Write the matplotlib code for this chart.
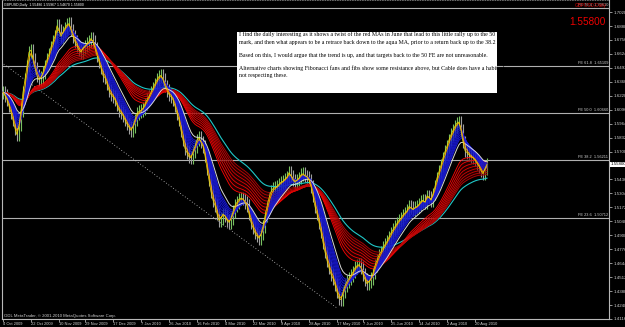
import numpy as np
import pandas as pd
import matplotlib
matplotlib.use("Agg")
import matplotlib.pyplot as plt
from matplotlib.patches import Rectangle

# --- daily closes GBPUSD, 4 Oct 2009 .. 24 Aug 2010 ---
closes = [
    1.626, 1.623, 1.619, 1.613, 1.607, 1.600, 1.592, 1.586, 1.595, 1.609,
    1.626, 1.638, 1.651, 1.664, 1.666, 1.657, 1.649, 1.642, 1.638, 1.640,
    1.645, 1.651, 1.657, 1.662, 1.669, 1.674, 1.679, 1.689, 1.685, 1.679,
    1.683, 1.687, 1.690, 1.691, 1.685, 1.679, 1.674, 1.670, 1.666, 1.664,
    1.668, 1.670, 1.672, 1.674, 1.677, 1.674, 1.668, 1.661, 1.655, 1.649,
    1.642, 1.640, 1.634, 1.628, 1.624, 1.622, 1.619, 1.614, 1.609, 1.607,
    1.604, 1.600, 1.596, 1.593, 1.590, 1.594, 1.600, 1.606, 1.608, 1.609,
    1.611, 1.615, 1.619, 1.622, 1.626, 1.630, 1.634, 1.638, 1.641, 1.642,
    1.638, 1.632, 1.628, 1.624, 1.622, 1.619, 1.613, 1.606, 1.600, 1.590,
    1.581, 1.573, 1.569, 1.565, 1.564, 1.570, 1.575, 1.581, 1.583, 1.579,
    1.575, 1.566, 1.554, 1.543, 1.532, 1.524, 1.519, 1.511, 1.505, 1.507,
    1.511, 1.509, 1.505, 1.503, 1.507, 1.513, 1.519, 1.522, 1.525, 1.526,
    1.525, 1.522, 1.519, 1.511, 1.503, 1.498, 1.493, 1.490, 1.488, 1.492,
    1.499, 1.509, 1.518, 1.526, 1.532, 1.535, 1.536, 1.537, 1.539, 1.541,
    1.542, 1.544, 1.546, 1.550, 1.547, 1.543, 1.541, 1.543, 1.545, 1.548,
    1.549, 1.547, 1.546, 1.543, 1.537, 1.528, 1.518, 1.511, 1.503, 1.494,
    1.484, 1.475, 1.467, 1.460, 1.454, 1.450, 1.444, 1.437, 1.431, 1.430,
    1.437, 1.443, 1.447, 1.450, 1.453, 1.456, 1.460, 1.462, 1.463, 1.460,
    1.454, 1.449, 1.445, 1.447, 1.450, 1.455, 1.462, 1.467, 1.472, 1.475,
    1.479, 1.482, 1.485, 1.489, 1.493, 1.496, 1.499, 1.502, 1.505, 1.507,
    1.510, 1.512, 1.514, 1.518, 1.517, 1.515, 1.517, 1.518, 1.520, 1.523,
    1.524, 1.522, 1.528, 1.527, 1.524, 1.530, 1.537, 1.545, 1.551, 1.557,
    1.564, 1.570, 1.575, 1.581, 1.586, 1.590, 1.594, 1.597, 1.598, 1.590,
    1.579, 1.571, 1.569, 1.567, 1.565, 1.564, 1.562, 1.559, 1.556, 1.552,
    1.549, 1.554, 1.558,
]

date_ticks = [0, 14, 28, 41, 55, 69, 83, 97, 111, 125, 139, 153, 167, 180,
              194, 208, 222, 236]
date_labels = ["4 Oct 2009", "22 Oct 2009", "10 Nov 2009", "29 Nov 2009",
               "17 Dec 2009", "7 Jan 2010", "26 Jan 2010", "16 Feb 2010",
               "4 Mar 2010", "22 Mar 2010", "9 Apr 2010", "28 Apr 2010",
               "17 May 2010", "7 Jun 2010", "25 Jun 2010", "14 Jul 2010",
               "2 Aug 2010", "20 Aug 2010"]

price_ticks = [1.4116 + 0.0132 * k for k in range(23)]

fe_names = ["FE 23.6", "FE 38.2", "FE 50.0", "FE 61.8", "FE 76.4"]
fe_prices = [1.50712, 1.56211, 1.60660, 1.65109, 1.70610]

# trend line (bar index, price)
trend_x = [-2, 167]
trend_y = [1.6560, 1.4220]

title_text = "GBPUSD,Daily  1.55486 1.55967 1.54670 1.55800"
last_price = 1.55800

note_lines = [
    "I find the daily interesting as it shows a twist of the red MAs in June that lead to this little rally up to the 50 FE",
    "mark, and then what appears to be a retrace back down to the aqua MA, prior to a return back up to the 38.2 FE.",
    "",
    "Based on this, I would argue that the trend is up, and that targets back to the 50 FE are not unreasonable.",
    "",
    "Alternative charts showing Fibonacci fans and fibs show some resistance above, but Cable does have a habit of",
    "not respecting these.",
]

blue_periods = [3, 4, 5, 6, 7, 8, 9, 10]
red_periods = [22, 25, 28, 31, 34, 37, 40, 43]
white_period = 12
aqua_period = 50

SANS = "Liberation Sans"


def ema(vals, n):
    return pd.Series(vals).ewm(span=n, adjust=False).mean().to_numpy()


W, H = 625, 327
fig = plt.figure(figsize=(W / 100, H / 100), dpi=100, facecolor="black")
ax = fig.add_axes([2 / W, 8 / H, 607 / W, 319 / H], facecolor="black")

c = np.array(closes)
x = np.arange(len(c))
o = np.r_[c[0], c[:-1]]
pad = 0.006
hi = np.maximum(o, c) + pad
lo = np.minimum(o, c) - pad
up = c >= o
ax.vlines(x[up], lo[up], hi[up], color="#78c060", lw=0.8, zorder=2)
ax.vlines(x[~up], lo[~up], hi[~up], color="#a0a0a0", lw=0.8, zorder=2)

# moving averages
ax.plot(x, ema(c, aqua_period), color="#20c8c8", lw=0.8, zorder=3)
reds = [ema(c, p) for p in red_periods]
ax.fill_between(x, reds[0], reds[-1], color="#400000", alpha=0.5, lw=0, zorder=3)
n_red = len(reds)
for k, r in enumerate(reds):
    shade = 1.0 - 0.3 * k / (n_red - 1)
    ax.plot(x, r, color=(shade, 0.02, 0.02), lw=0.6, zorder=3)
blues = [ema(c, p) for p in blue_periods]
ax.fill_between(x, blues[0], blues[-1], color="#000090", alpha=0.6, lw=0, zorder=4)
for b in blues:
    ax.plot(x, b, color="#1c1cd8", lw=0.55, zorder=4)
ax.plot(x, ema(c, white_period), color="#d8d8d8", lw=0.7, zorder=4)
ax.plot(x, ema(c, 2), color="#ff9900", lw=0.6, zorder=5)
ax.plot(x, c, color="#e8d800", lw=0.55, zorder=5)

# fib expansion levels
for name, lvl in zip(fe_names, fe_prices):
    ax.axhline(lvl, color="#b0b0b0", lw=0.8, zorder=1)
    ax.text(302.5, lvl + 0.0009, f"{name}  {lvl:.5f}", color="#d0d0d0",
            fontsize=2.8, family=SANS, ha="right", va="bottom", zorder=6)

ax.plot(trend_x, trend_y, color="#c8c8c8", lw=0.6, ls=(0, (1, 2.5)), zorder=1)

ax.set_xlim(-0.5, 303)
ax.set_ylim(1.4116, 1.7134)

ax.yaxis.tick_right()
ax.set_yticks(price_ticks)
ax.set_yticklabels([f"{v:.5f}" for v in price_ticks], family=SANS)
ax.set_xticks(date_ticks)
ax.set_xticklabels(date_labels, family=SANS)
ax.tick_params(axis="y", colors="#d0d0d0", labelsize=3.2, length=2, width=0.5, pad=1)
ax.tick_params(axis="x", colors="#d0d0d0", labelsize=2.9, length=2, width=0.5, pad=0.3)
for lab in ax.get_xticklabels():
    lab.set_ha("left")
for side in ["left", "bottom", "right"]:
    ax.spines[side].set_color("#b8b8b8")
    ax.spines[side].set_linewidth(0.8)
ax.spines["top"].set_color("#808080")
ax.spines["top"].set_linestyle((0, (1, 2)))
ax.spines["top"].set_linewidth(0.6)

# current price marker on the axis
ax.text(1.003, last_price, f"{last_price:.5f}", transform=ax.get_yaxis_transform(),
        fontsize=3.2, family=SANS, color="black", va="center", ha="left",
        bbox=dict(boxstyle="square,pad=0.15", fc="white", ec="none"), clip_on=False)

fig.text(4 / W, 1 - 5 / H, title_text, color="white", fontsize=2.5, family=SANS,
         va="center")
fig.text(607 / W, 1 - 5 / H, "GBPUSD,Daily", color="#d00000", fontsize=3.4,
         family=SANS, va="center", ha="right")
fig.text(606 / W, 1 - 22 / H, "1.55800", color="#ee0000", fontsize=7.2,
         family=SANS, va="center", ha="right")
fig.text(4 / W, 1 - 316 / H, "ODL MetaTrader, \u00a9 2001-2010 MetaQuotes Software Corp.",
         color="#d0d0d0", fontsize=3.1, family=SANS, va="center")

# note box
fig.patches.append(Rectangle((237 / W, 1 - 93 / H), 260 / W, 61 / H,
                             transform=fig.transFigure, fc="white", ec="none", zorder=10))
line_y = [34.5, 42.5, None, 55.5, None, 68.5, 75.5]
texts = []
for s, yy in zip(note_lines, line_y):
    if yy is None:
        continue
    t = fig.text(239 / W, 1 - yy / H, s, color="black", fontsize=4,
                 family="Liberation Serif", va="center", ha="left", zorder=11)
    texts.append(t)
fig.canvas.draw()
w0 = texts[0].get_window_extent().width
fs = 4 * 257 / w0
for t in texts:
    t.set_fontsize(fs)

fig.savefig("out.png", dpi=100, facecolor="black")
